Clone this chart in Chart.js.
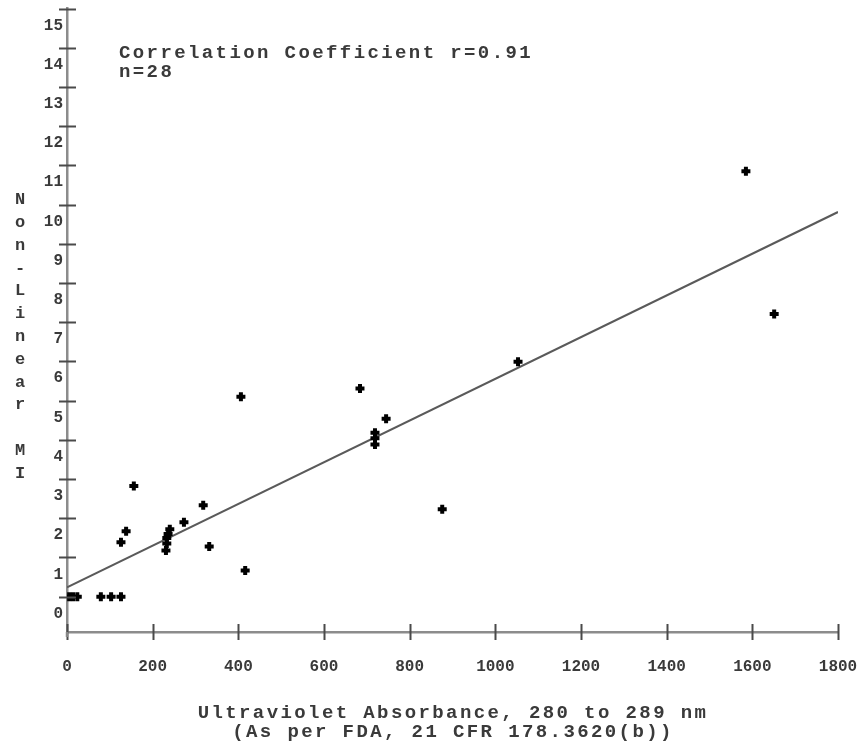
<!DOCTYPE html>
<html>
<head>
<meta charset="utf-8">
<script src="https://cdn.jsdelivr.net/npm/chart.js@4/dist/chart.umd.min.js"></script>
<style>
  html, body { margin: 0; padding: 0; background: #ffffff; }
  #wrap { width: 858px; height: 751px; position: relative; }
</style>
</head>
<body>
<div id="wrap"><canvas id="c" width="858" height="751"></canvas></div>
<script>
// ---- data ----
const uvAbsorbance = [5, 14, 24, 79, 103, 126, 156, 138, 126, 240, 236, 233, 233, 231,
                      273, 318, 332, 416, 406, 684, 745, 719, 719, 719, 1053, 876, 1585, 1651];
const nonLinearMI  = [0, 0, 0, 0, 0, 0, 2.82, 1.67, 1.39, 1.72, 1.60, 1.50, 1.36, 1.18,
                      1.90, 2.33, 1.28, 0.67, 5.10, 5.31, 4.54, 4.18, 4.04, 3.88, 5.99, 2.23, 10.85, 7.21];
const fitX = [0, 1800];
const fitY = [0.24, 9.81];
const xTicks = [0, 200, 400, 600, 800, 1000, 1200, 1400, 1600, 1800];
const yTicks = [0, 1, 2, 3, 4, 5, 6, 7, 8, 9, 10, 11, 12, 13, 14, 15];
const yTitleChars = ['N', 'o', 'n', '-', 'L', 'i', 'n', 'e', 'a', 'r', '', 'M', 'I'];
const xTitleLines = ['Ultraviolet Absorbance, 280 to 289 nm', '(As per FDA, 21 CFR 178.3620(b))'];
const noteLines = ['Correlation Coefficient r=0.91', 'n=28'];

const points = uvAbsorbance.map((x, i) => ({ x: x, y: nonLinearMI[i] }));
const fitLine = fitX.map((x, i) => ({ x: x, y: fitY[i] }));

const MONO = '"Liberation Mono", "DejaVu Sans Mono", monospace';

const decor = {
  id: 'decor',
  afterDraw(chart) {
    const ctx = chart.ctx;
    const xs = chart.scales.x, ys = chart.scales.y;
    const area = chart.chartArea;
    ctx.save();
    // crossing tick marks
    ctx.strokeStyle = '#4a4a4a';
    ctx.lineWidth = 2;
    ctx.beginPath();
    yTicks.forEach(v => {
      const py = Math.round(ys.getPixelForValue(v)) + 0.5;
      ctx.moveTo(area.left - 8, py);
      ctx.lineTo(area.left + 9, py);
    });
    xTicks.forEach(v => {
      const px = Math.round(xs.getPixelForValue(v)) + 0.5;
      ctx.moveTo(px, area.bottom - 8);
      ctx.lineTo(px, area.bottom + 8);
    });
    ctx.stroke();
    // y axis slight extension below x axis
    ctx.strokeStyle = '#888';
    ctx.lineWidth = 2.5;
    ctx.beginPath();
    ctx.moveTo(area.left, area.bottom);
    ctx.lineTo(area.left, area.bottom + 5);
    ctx.stroke();

    ctx.fillStyle = '#3a3a3a';
    ctx.textBaseline = 'middle';
    // vertical stacked y title
    ctx.font = 'bold 17px ' + MONO;
    ctx.textAlign = 'center';
    yTitleChars.forEach((ch, i) => {
      ctx.fillText(ch, 20, 200 + i * 22.8);
    });
    // annotation
    if ('letterSpacing' in ctx) ctx.letterSpacing = '2.4px';
    ctx.font = 'bold 19px ' + MONO;
    ctx.textAlign = 'left';
    noteLines.forEach((t, i) => ctx.fillText(t, 119, 53 + i * 19));
    // x title
    ctx.textAlign = 'center';
    xTitleLines.forEach((t, i) => ctx.fillText(t, 453, 713 + i * 19));
    ctx.restore();
  }
};

new Chart(document.getElementById('c'), {
  type: 'scatter',
  data: {
    datasets: [
      {
        type: 'line',
        data: fitLine,
        borderColor: '#5a5a5a',
        borderWidth: 2,
        pointRadius: 0,
        fill: false,
        order: 2
      },
      {
        data: points,
        pointStyle: 'cross',
        pointRadius: 4.5,
        pointBorderWidth: 4,
        borderColor: '#000',
        backgroundColor: '#000',
        order: 1
      }
    ]
  },
  options: {
    responsive: false,
    animation: false,
    devicePixelRatio: 1,
    layout: { padding: { top: 7, right: 20, left: 0, bottom: 0 } },
    plugins: { legend: { display: false }, tooltip: { enabled: false } },
    scales: {
      x: {
        type: 'linear',
        min: 0, max: 1800,
        afterBuildTicks: s => { s.ticks = xTicks.map(v => ({ value: v })); },
        afterFit: s => { s.height = 119; s.paddingLeft = 0; s.paddingRight = 0; },
        grid: { display: true, drawOnChartArea: false, drawTicks: false },
        border: { display: true, color: '#8c8c8c', width: 2.5 },
        ticks: {
          padding: 25,
          maxRotation: 0,
          autoSkip: false,
          color: '#3a3a3a',
          font: { family: MONO, size: 16, weight: 'bold' },
          callback: v => String(v)
        }
      },
      y: {
        type: 'linear',
        min: -0.9, max: 15,
        afterBuildTicks: s => { s.ticks = yTicks.map(v => ({ value: v })); },
        afterFit: s => { s.width = 67; s.paddingTop = 0; s.paddingBottom = 0; },
        grid: { display: true, drawOnChartArea: false, drawTicks: false },
        border: { display: true, color: '#8c8c8c', width: 2.5 },
        ticks: {
          padding: 4,
          labelOffset: 17,
          autoSkip: false,
          color: '#3a3a3a',
          font: { family: MONO, size: 16, weight: 'bold' },
          callback: v => String(v)
        }
      }
    }
  },
  plugins: [decor]
});
</script>
</body>
</html>
